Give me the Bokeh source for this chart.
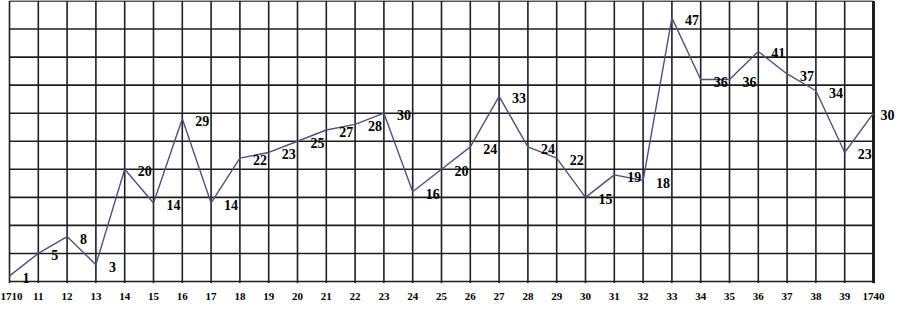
from bokeh.plotting import figure
from bokeh.models import ColumnDataSource, FixedTicker, Range1d
from bokeh.core.properties import value
from bokeh.embed import file_html
from bokeh.resources import INLINE

# ---- data ----
years = [1710, 1711, 1712, 1713, 1714, 1715, 1716, 1717, 1718, 1719, 1720,
         1721, 1722, 1723, 1724, 1725, 1726, 1727, 1728, 1729, 1730,
         1731, 1732, 1733, 1734, 1735, 1736, 1737, 1738, 1739, 1740]
counts = [1, 5, 8, 3, 20, 14, 29, 14, 22, 23, 25,
          27, 28, 30, 16, 20, 24, 33, 24, 22, 15,
          19, 18, 47, 36, 36, 41, 37, 34, 23, 30]
tick_labels = ["1710", "11", "12", "13", "14", "15", "16", "17", "18", "19", "20",
               "21", "22", "23", "24", "25", "26", "27", "28", "29", "30",
               "31", "32", "33", "34", "35", "36", "37", "38", "39", "1740"]
grid_levels = [0, 5, 10, 15, 20, 25, 30, 35, 40, 45, 50]

W, H = 897, 302
step = 28.8
x_start = 1710 - 9 / step
x_end = x_start + W / step

p = figure(width=W, height=H, output_backend="svg", toolbar_location=None,
           x_range=Range1d(x_start, x_end), y_range=Range1d(-0.36, 50.09),
           y_axis_location=None, min_border_left=0, min_border_right=0,
           min_border_top=0, min_border_bottom=0)
p.outline_line_color = None
p.xgrid.visible = False
p.ygrid.visible = False
p.background_fill_color = "white"

grid_color = "#1e1e1e"
# horizontal grid
p.segment(x0=[years[0]] * len(grid_levels), x1=[years[-1]] * len(grid_levels),
          y0=grid_levels, y1=grid_levels, line_color=grid_color, line_width=1.6)
# vertical grid
p.segment(x0=years[:-1], x1=years[:-1], y0=[-0.3] * (len(years) - 1),
          y1=[grid_levels[-1]] * (len(years) - 1), line_color=grid_color, line_width=1.6)
p.segment(x0=[years[-1]], x1=[years[-1]], y0=[-0.3], y1=[grid_levels[-1]],
          line_color=grid_color, line_width=3)

# data line
p.line(years, counts, line_color="#505080", line_width=1.4)

offs = [13] * (len(years) - 1) + [7]
src = ColumnDataSource(dict(x=years, y=counts, label=[str(c) for c in counts], xo=offs))
p.text(x="x", y="y", text="label", x_offset="xo", y_offset=2, source=src,
       text_font=value("Liberation Serif"), text_font_style="bold",
       text_font_size="14px", text_color="black",
       text_align="left", text_baseline="middle")

ax = p.xaxis[0]
ax.ticker = FixedTicker(ticks=years)
ax.major_label_overrides = {y: t for y, t in zip(years, tick_labels)}
ax.axis_line_color = None
ax.major_tick_line_color = None
ax.minor_tick_line_color = None
ax.major_tick_out = 0
ax.major_tick_in = 0
ax.major_label_standoff = 9
ax.major_label_text_font = "Liberation Serif"
ax.major_label_text_font_style = "bold"
ax.major_label_text_font_size = "11px"
ax.major_label_text_color = "black"

open("out.html", "w").write(file_html(p, INLINE))
